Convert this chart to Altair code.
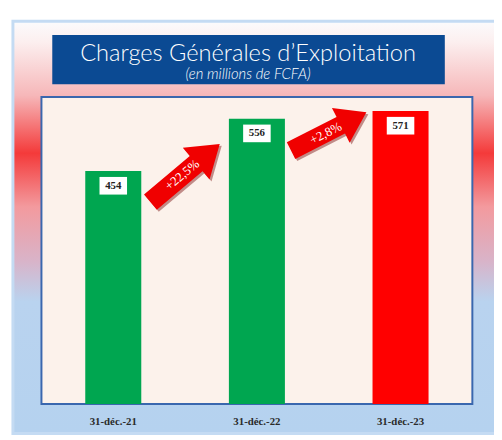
import altair as alt
import pandas as pd

# ---- data ----
dates = ["31-déc.-21", "31-déc.-22", "31-déc.-23"]
values = [454, 556, 571]
bar_colors = ["#00A650", "#00A650", "#FF0000"]
growth_from_date = ["31-déc.-21", "31-déc.-22"]
growth_from_value = [454, 556]
growth_labels = ["+22,5%", "+2,8%"]
title_text = "Charges Générales d’Exploitation"
subtitle_text = "(en millions de FCFA)"

bars_df = pd.DataFrame({"date": dates, "value": values, "color": bar_colors})
growth_df = pd.DataFrame({"date": growth_from_date, "value": growth_from_value,
                          "label": growth_labels})

W, H = 438, 312
STEP = W / 3

xenc = alt.X("date:N", sort=dates,
             scale=alt.Scale(domain=dates, paddingInner=0.61, paddingOuter=0.305),
             axis=alt.Axis(title=None, labelAngle=0, domain=False, ticks=False,
                           labelFont="Liberation Serif", labelFontWeight="bold",
                           labelFontSize=11, labelColor="#2a2a2a", labelPadding=12,
                           zindex=1))
yenc = alt.Y("value:Q", scale=alt.Scale(domain=[0, 598], nice=False, zero=True), axis=None)

one = alt.Data(values=[{"k": 1}])

frame = alt.Chart(one).mark_rect(
    fill=alt.LinearGradient(
        gradient="linear", x1=0, y1=0, x2=0, y2=1,
        stops=[
            alt.GradientStop(offset=0.0, color="#FBFBFD"),
            alt.GradientStop(offset=0.05, color="#FCEFEF"),
            alt.GradientStop(offset=0.18, color="#F6B7B9"),
            alt.GradientStop(offset=0.32, color="#F43A3A"),
            alt.GradientStop(offset=0.45, color="#F39A9E"),
            alt.GradientStop(offset=0.58, color="#D9B3C8"),
            alt.GradientStop(offset=0.68, color="#B9D3EF"),
            alt.GradientStop(offset=1.0, color="#B5D2EF"),
        ]),
    stroke="#C4DBF3", strokeWidth=3,
).encode(x=alt.value(-29), x2=alt.value(462), y=alt.value(-77), y2=alt.value(342))

plot_bg = alt.Chart(one).mark_rect(
    fill="#FCF2EB", stroke="#3A67AE", strokeWidth=2
).encode(x=alt.value(0), x2=alt.value(W), y=alt.value(0), y2=alt.value(H))

title_box = alt.Chart(one).mark_rect(fill="#0B4A93").encode(
    x=alt.value(11), x2=alt.value(410), y=alt.value(-63), y2=alt.value(-13))

title = alt.Chart(one).mark_text(
    text=title_text, font="Lato", fontSize=24, fontWeight=300, color="white",
    align="center", baseline="alphabetic"
).encode(x=alt.value(210), y=alt.value(-37))

subtitle = alt.Chart(one).mark_text(
    text=subtitle_text, font="Lato", fontSize=15, fontWeight=300, fontStyle="italic",
    color="white", align="center", baseline="alphabetic"
).encode(x=alt.value(210), y=alt.value(-18))

bars = alt.Chart(bars_df).mark_bar().encode(
    x=xenc, y=yenc, color=alt.Color("color:N", scale=None))

box_shape = "M -1 -0.64 L 1 -0.64 L 1 0.64 L -1 0.64 Z"
label_box = alt.Chart(bars_df).mark_point(
    shape=box_shape, filled=True, fill="white", opacity=1, size=784, yOffset=15
).encode(x=xenc, y=yenc)

label_text = alt.Chart(bars_df).mark_text(
    font="Liberation Serif", fontWeight="bold", fontSize=11, color="#222",
    baseline="middle", dy=15
).encode(x=xenc, y=yenc, text="value:Q")

arrow_shape = ("M -1 -0.22 L 0.32 -0.22 L 0.32 -0.46 L 1 0 L 0.32 0.46 "
               "L 0.32 0.22 L -1 0.22 Z")
arrow_styles = [
    {"angle": 320, "size": 92 ** 2, "yOffset": 2},
    {"angle": 333, "size": 86 ** 2, "yOffset": 13},
]

layers = [frame, plot_bg, title_box, title, subtitle, bars, label_box, label_text]
for i, st in enumerate(arrow_styles):
    sub = alt.Chart(growth_df).transform_filter(
        alt.datum.label == growth_labels[i])
    shadow = sub.mark_point(
        shape=arrow_shape, filled=True, fill="#7a1010", opacity=0.45,
        size=st["size"], angle=st["angle"], xOffset=STEP / 2 + 2,
        yOffset=st["yOffset"] + 2
    ).encode(x=xenc, y=yenc)
    arrow = sub.mark_point(
        shape=arrow_shape, filled=True, fill="#F00000", opacity=1,
        size=st["size"], angle=st["angle"], xOffset=STEP / 2,
        yOffset=st["yOffset"]
    ).encode(x=xenc, y=yenc)
    txt = sub.mark_text(
        font="Liberation Serif", fontSize=13, color="white",
        angle=st["angle"], xOffset=STEP / 2 - 3, yOffset=st["yOffset"] + 2,
        align="center", baseline="middle"
    ).encode(x=xenc, y=yenc, text="label:N")
    layers += [shadow, arrow, txt]

chart = alt.layer(*layers).properties(
    width=W, height=H,
    autosize=alt.AutoSizeParams(type="none"),
    padding={"left": 34, "top": 87, "right": 22, "bottom": 33},
    background="white",
).configure_view(stroke=None)

chart.save("out.html", embed_options={"renderer": "svg", "actions": False})
